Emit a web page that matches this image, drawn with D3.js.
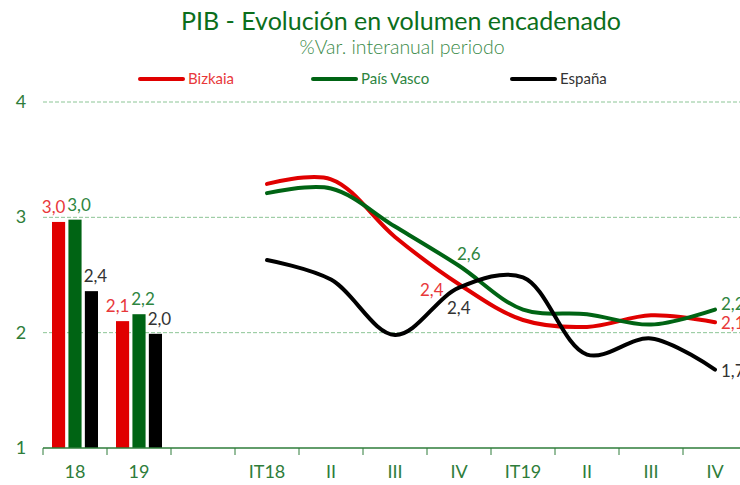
<!DOCTYPE html>
<html>
<head>
<meta charset="utf-8">
<script src="https://cdn.jsdelivr.net/npm/d3@7"></script>
<style>
  body { margin: 0; background: #fff; }
  svg { font-family: Lato, "Open Sans", sans-serif; }
</style>
</head>
<body>
<svg id="chart" width="740" height="485"></svg>
<script>
// categories on the x axis (keys) and the labels that are shown
var categories = ["18", "19", "gap", "IT18", "II-18", "III-18", "IV-18", "IT19", "II-19", "III-19", "IV-19"];
var tickLabels = ["18", "19", "", "IT18", "II", "III", "IV", "IT19", "II", "III", "IV"];

// annual bars
var years = ["18", "19"];
var bizkaiaAnual = [2.96, 2.10];
var paisVascoAnual = [2.98, 2.16];
var espanaAnual = [2.36, 1.99];

// quarterly lines
var quarters = ["IT18", "II-18", "III-18", "IV-18", "IT19", "II-19", "III-19", "IV-19"];
var bizkaiaTrim = [3.29, 3.33, 2.83, 2.42, 2.11, 2.05, 2.15, 2.09];
var paisVascoTrim = [3.21, 3.25, 2.92, 2.58, 2.20, 2.16, 2.07, 2.20];
var espanaTrim = [2.63, 2.46, 1.98, 2.39, 2.48, 1.81, 1.95, 1.68];

var yTicks = [1, 2, 3, 4];

var series = [
    {name: "Bizkaia", color: "#e00000", label: "#e8383a", anual: bizkaiaAnual, trim: bizkaiaTrim, barDx: -5},
    {name: "País Vasco", color: "#006414", label: "#2e8540", anual: paisVascoAnual, trim: paisVascoTrim, barDx: 4},
    {name: "España", color: "#000000", label: "#333333", anual: espanaAnual, trim: espanaTrim, barDx: 4}
];

var svg = d3.select("#chart");
var axisGreen = "#2e7d3a";

var x = d3.scaleBand().domain(categories).range([43, 43 + 64 * categories.length]).padding(0);
var y = d3.scaleLinear().domain([1, 4]).range([448, 102]);
var xSub = d3.scaleBand().domain(series.map(function(s) { return s.name; }))
    .range([9, 55]).paddingInner(0.2);

var fmt = function(v) { return d3.format(".1f")(v).replace(".", ","); };

// title
svg.append("text")
    .attr("x", 401).attr("y", 30)
    .attr("text-anchor", "middle")
    .attr("font-size", 25)
    .attr("fill", "#0b6e1c")
    .text("PIB - Evolución en volumen encadenado");
svg.append("text")
    .attr("x", 402).attr("y", 54)
    .attr("text-anchor", "middle")
    .attr("font-size", 19.5)
    .attr("font-weight", 300)
    .attr("fill", "#3a8a48")
    .text("%Var. interanual periodo");

// legend
var legendX = [140, 313, 512];
series.forEach(function(s, i) {
    var g = svg.append("g").attr("transform", "translate(" + legendX[i] + ",79)");
    g.append("line")
        .attr("x1", 0).attr("x2", 43)
        .attr("stroke", s.color).attr("stroke-width", 4).attr("stroke-linecap", "round");
    g.append("text")
        .attr("x", 48).attr("y", 5)
        .attr("font-size", 15)
        .attr("fill", s.label)
        .text(s.name);
});

// gridlines
svg.append("g")
    .selectAll("line")
    .data(yTicks.slice(1))
    .join("line")
    .attr("x1", 43).attr("x2", 740)
    .attr("y1", function(d) { return y(d); })
    .attr("y2", function(d) { return y(d); })
    .attr("stroke", "#8cc596")
    .attr("stroke-width", 1)
    .attr("stroke-dasharray", "4,2");

// y labels
svg.append("g")
    .selectAll("text")
    .data(yTicks)
    .join("text")
    .attr("x", 21)
    .attr("y", function(d) { return y(d) + 6; })
    .attr("text-anchor", "middle")
    .attr("font-size", 18)
    .attr("fill", axisGreen)
    .text(function(d) { return d; });

// bars
years.forEach(function(yr, j) {
    series.forEach(function(s) {
        var v = s.anual[j];
        var bx = x(yr) + xSub(s.name);
        svg.append("rect")
            .attr("x", bx)
            .attr("y", y(v))
            .attr("width", xSub.bandwidth())
            .attr("height", y(1) - y(v))
            .attr("fill", s.color);
        svg.append("text")
            .attr("x", bx + xSub.bandwidth() / 2 + s.barDx)
            .attr("y", y(v) - 9)
            .attr("text-anchor", "middle")
            .attr("font-size", 17)
            .attr("fill", s.label)
            .text(fmt(v));
    });
});

// lines
var line = d3.line()
    .x(function(d) { return x(d.q) + x.bandwidth() / 2; })
    .y(function(d) { return y(d.v); })
    .curve(d3.curveCatmullRom.alpha(0.5));

series.forEach(function(s) {
    var pts = quarters.map(function(q, i) { return {q: q, v: s.trim[i]}; });
    svg.append("path")
        .datum(pts)
        .attr("fill", "none")
        .attr("stroke", s.color)
        .attr("stroke-width", 4)
        .attr("stroke-linecap", "round")
        .attr("d", line);
});

// line data labels
var lineLabels = [
    {s: 0, q: "IV-18", dx: -39, dy: 12},
    {s: 1, q: "IV-18", dx: -2, dy: -6},
    {s: 2, q: "IV-18", dx: -12, dy: 26},
    {s: 1, q: "IV-19", dx: 6, dy: 0},
    {s: 0, q: "IV-19", dx: 6, dy: 7},
    {s: 2, q: "IV-19", dx: 6, dy: 7}
];
lineLabels.forEach(function(l) {
    var s = series[l.s];
    var v = s.trim[quarters.indexOf(l.q)];
    svg.append("text")
        .attr("x", x(l.q) + x.bandwidth() / 2 + l.dx)
        .attr("y", y(v) + l.dy)
        .attr("font-size", 17)
        .attr("fill", s.label)
        .text(fmt(v));
});

// x axis
var xAxis = svg.append("g");
xAxis.append("line")
    .attr("x1", 43).attr("x2", 740)
    .attr("y1", 448).attr("y2", 448)
    .attr("stroke", axisGreen).attr("stroke-width", 1.5);
xAxis.selectAll(".tk")
    .data(categories)
    .join("line")
    .attr("class", "tk")
    .attr("x1", function(d) { return x(d); })
    .attr("x2", function(d) { return x(d); })
    .attr("y1", 448).attr("y2", 455)
    .attr("stroke", axisGreen).attr("stroke-width", 1);
xAxis.selectAll(".lb")
    .data(categories)
    .join("text")
    .attr("class", "lb")
    .attr("x", function(d) { return x(d) + x.bandwidth() / 2; })
    .attr("y", 478)
    .attr("text-anchor", "middle")
    .attr("font-size", 18)
    .attr("fill", axisGreen)
    .text(function(d, i) { return tickLabels[i]; });
</script>
</body>
</html>
